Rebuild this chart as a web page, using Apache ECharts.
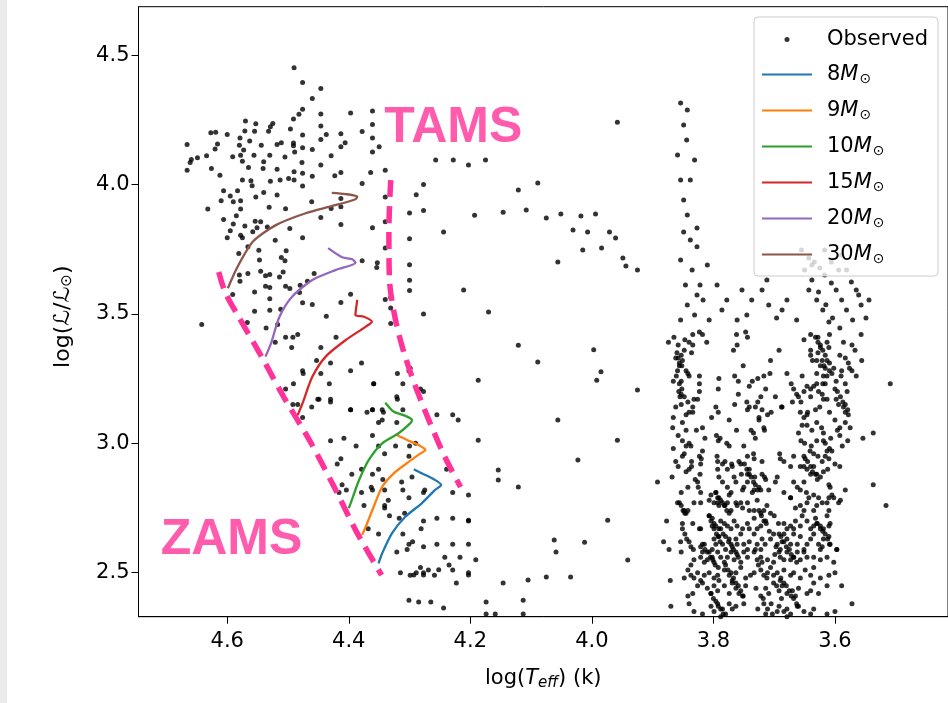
<!DOCTYPE html>
<html><head><meta charset="utf-8">
<script src="https://cdn.jsdelivr.net/npm/echarts@6/dist/echarts.min.js"></script>
<style>html,body{margin:0;padding:0;background:#fff;}#c{width:948px;height:703px;}</style>
</head><body><div id="c"></div>
<script>
// axis ticks
const xTicks = [4.6, 4.4, 4.2, 4.0, 3.8, 3.6];
const yTicks = [2.5, 3.0, 3.5, 4.0, 4.5];
// evolutionary tracks (logTeff, logL)
const t8T  = [4.351,4.345,4.329,4.307,4.280,4.258,4.248,4.263,4.280,4.293];
const t8L  = [2.536,2.575,2.652,2.716,2.768,2.820,2.839,2.865,2.884,2.900];
const t9T  = [4.378,4.372,4.359,4.345,4.326,4.301,4.282,4.274,4.285,4.304,4.321];
const t9L  = [2.646,2.678,2.755,2.832,2.884,2.929,2.961,2.974,2.993,3.013,3.032];
const t10T = [4.400,4.397,4.383,4.367,4.345,4.318,4.299,4.296,4.310,4.326,4.340];
const t10L = [2.749,2.768,2.858,2.936,3.000,3.039,3.077,3.090,3.109,3.122,3.157];
const t15T = [4.484,4.476,4.460,4.438,4.405,4.372,4.362,4.375,4.389,4.386];
const t15L = [3.109,3.155,3.257,3.335,3.399,3.451,3.470,3.489,3.496,3.554];
const t20T = [4.537,4.528,4.514,4.493,4.460,4.421,4.389,4.394,4.411,4.434];
const t20L = [3.335,3.386,3.489,3.567,3.631,3.670,3.698,3.711,3.719,3.754];
const t30T = [4.599,4.583,4.558,4.520,4.471,4.427,4.389,4.386,4.405,4.428];
const t30L = [3.599,3.682,3.779,3.843,3.889,3.917,3.943,3.953,3.963,3.968];
// ZAMS / TAMS guide lines
const zamsT = [4.614,4.603,4.580,4.544,4.506,4.465,4.424,4.387,4.346];
const zamsL = [3.662,3.581,3.484,3.337,3.175,3.013,2.831,2.657,2.491];
const tamsT = [4.331,4.334,4.333,4.323,4.308,4.288,4.265,4.241,4.216];
const tamsL = [4.017,3.824,3.631,3.476,3.341,3.206,3.071,2.943,2.831];
// observed stars: hot upper-left group
const obsHot = [[4.490,4.451],[4.476,4.394],[4.446,4.371],[4.460,4.332],[4.476,4.291],[4.482,4.271],[4.491,4.253],[4.446,4.272],[4.397,4.276],[4.361,4.284],
[4.570,4.245],[4.553,4.235],[4.525,4.236],[4.529,4.223],[4.532,4.206],[4.496,4.214],[4.627,4.200],[4.619,4.202],[4.600,4.193],[4.579,4.180],
[4.571,4.207],[4.555,4.206],[4.563,4.168],[4.544,4.152],[4.518,4.155],[4.511,4.161],[4.491,4.160],[4.491,4.150],[4.476,4.191],[4.446,4.226],
[4.437,4.193],[4.446,4.174],[4.413,4.196],[4.406,4.161],[4.413,4.146],[4.378,4.205],[4.361,4.232],[4.361,4.180],[4.350,4.146],[4.361,4.126],
[4.666,4.155],[4.616,4.156],[4.620,4.137],[4.580,4.152],[4.573,4.133],[4.578,4.113],[4.591,4.107],[4.556,4.113],[4.530,4.113],[4.505,4.106],
[4.489,4.126],[4.476,4.142],[4.460,4.135],[4.429,4.111],[4.659,4.097],[4.661,4.085],[4.649,4.103],[4.634,4.111],[4.666,4.055],[4.626,4.062],
[4.612,4.036],[4.575,4.090],[4.565,4.066],[4.540,4.088],[4.541,4.062],[4.518,4.059],[4.490,4.049],[4.477,4.085],[4.476,4.043],[4.460,4.032],
[4.446,4.075],[4.423,4.034],[4.413,4.046],[4.378,4.004],[4.364,4.046],[4.340,4.055],[4.575,4.017],[4.561,4.014],[4.559,3.995],[4.529,4.013],
[4.513,4.017],[4.499,4.023],[4.490,4.017],[4.476,3.994],[4.606,3.976],[4.595,3.956],[4.583,3.976],[4.610,3.937],[4.590,3.933],[4.578,3.937],
[4.553,3.952],[4.540,3.969],[4.518,3.959],[4.461,3.933],[4.429,3.907],[4.413,3.914],[4.413,3.946],[4.340,3.952],[4.632,3.905],[4.578,3.905],
[4.531,3.912],[4.504,3.906],[4.606,3.865],[4.585,3.879],[4.590,3.847],[4.571,3.840],[4.554,3.858],[4.545,3.856],[4.551,3.833],[4.558,3.817],
[4.534,3.836],[4.497,3.830],[4.446,3.872],[4.413,3.845],[4.361,3.833],[4.340,3.856],[4.600,3.794],[4.595,3.821],[4.578,3.804],[4.575,3.794],
[4.566,3.759],[4.521,3.785],[4.476,3.794],[4.581,3.733],[4.548,3.746],[4.547,3.708],[4.511,3.718],[4.503,3.744],[4.505,3.705],[4.378,3.705],
[4.353,3.698],[4.354,3.679],[4.340,3.755],[4.580,3.650],[4.579,3.626],[4.566,3.656],[4.545,3.665],[4.537,3.647],[4.530,3.652],[4.514,3.643],
[4.508,3.662],[4.457,3.656],[4.468,3.626],[4.480,3.611],[4.537,3.607],[4.530,3.602],[4.504,3.607],[4.497,3.598],[4.555,3.585],[4.591,3.575],
[4.530,3.559],[4.512,3.518],[4.530,3.514],[4.555,3.510],[4.481,3.583],[4.476,3.543],[4.460,3.536],[4.413,3.544],[4.397,3.576],[4.340,3.556],
[4.331,3.563],[4.331,3.523],[4.567,3.467],[4.642,3.459],[4.536,3.446],[4.517,3.459],[4.437,3.491],[4.331,3.463]];
// observed stars: main-sequence band between ZAMS and TAMS
const obsMid = [[4.521,3.39],[4.504,3.41],[4.492,3.41],[4.484,3.42],[4.494,3.37],[4.446,3.37],[4.421,3.41],[4.379,3.31],[4.453,3.32],[4.430,3.31],
[4.476,3.28],[4.475,3.27],[4.446,3.27],[4.397,3.28],[4.432,3.23],[4.359,3.23],[4.491,3.23],[4.504,3.21],[4.449,3.17],[4.451,3.17],
[4.430,3.17],[4.492,3.15],[4.484,3.15],[4.461,3.14],[4.397,3.13],[4.361,3.13],[4.345,3.13],[4.476,3.10],[4.320,3.17],[4.301,3.28],
[4.299,3.29],[4.320,3.27],[4.282,3.21],[4.289,3.96],[4.277,4.00],[4.300,3.89],[4.277,3.90],[4.300,3.79],[4.300,3.69],[4.300,3.63],
[4.300,3.59],[4.277,3.50],
[4.359,3.23],[4.311,3.23],[4.321,3.18],[4.430,3.16],[4.397,3.13],[4.370,3.12],[4.361,3.13],[4.343,3.12],[4.351,3.08],[4.345,3.09],
[4.321,3.08],[4.311,3.13],[4.277,3.20],[4.255,3.11],[4.229,3.11],[4.361,3.03],[4.430,3.01],[4.408,3.02],[4.388,2.99],[4.351,2.99],
[4.323,2.99],[4.300,2.99],[4.290,3.00],[4.301,2.95],[4.341,2.96],[4.413,2.94],[4.419,2.92],[4.379,2.90],[4.361,2.88],[4.351,2.90],
[4.395,2.88],[4.411,2.84],[4.416,2.81],[4.404,2.82],[4.379,2.81],[4.363,2.83],[4.361,2.82],[4.344,2.86],[4.341,2.82],[4.313,2.85],
[4.311,2.82],[4.296,2.87],[4.277,2.81],[4.275,2.82],[4.239,2.90],[4.229,2.81],[4.203,2.80],[4.301,2.79],[4.335,2.78],[4.341,2.76],
[4.341,2.75],[4.375,2.76],[4.368,2.67],[4.351,2.65],[4.333,2.72],[4.317,2.71],[4.308,2.73],[4.311,2.65],[4.301,2.61],[4.304,2.59],
[4.295,2.62],[4.321,2.58],[4.277,2.70],[4.255,2.71],[4.229,2.71],[4.203,2.70],[4.277,2.60],[4.255,2.61],[4.229,2.61],[4.203,2.61],
[4.281,2.67],[4.242,2.56],[4.235,2.53],[4.217,2.56],[4.191,2.55],[4.282,2.52],[4.269,2.51],[4.277,2.50],[4.289,2.50],[4.299,2.49],
[4.315,2.50],[4.259,2.49],[4.229,2.51],[4.203,2.50]];
// observed stars: Hertzsprung gap (sparse)
const obsGap = [[4.257,4.095],[4.228,4.095],[4.203,4.075],[4.175,4.095],[4.146,3.893],[4.121,3.979],[4.108,3.901],[4.089,4.006],[4.075,3.871],[4.051,3.886],
[4.031,3.824],[4.018,3.878],[4.007,3.816],[3.994,3.886],[3.984,3.755],[3.971,3.816],[3.961,3.793],[3.949,3.716],[3.944,3.685],[3.925,3.670],
[3.958,4.241],[3.997,3.361],[3.985,3.276],[3.992,3.244],[4.015,3.747],[4.056,3.701],[4.193,3.881],[4.244,3.816],[4.211,3.592],[4.170,3.507],
[4.121,3.379],[4.089,3.314],[4.187,3.244],[4.220,3.090],[4.056,3.090],[3.958,3.012],[3.925,3.206],[4.023,2.935],[4.154,2.897],[4.187,3.012],
[4.203,2.703],[4.154,2.858],[4.121,2.831],[4.062,2.626],[4.059,2.580],[4.012,2.618],[4.035,2.483],[4.075,2.483],[4.105,2.472],[4.146,2.460],
[4.203,2.491],[4.223,2.460],[4.252,2.511],[4.277,2.491],[4.293,2.491],[4.301,2.394],[4.285,2.387],[4.265,2.387],[4.244,2.364],[4.174,2.387],
[4.174,2.340],[4.159,2.340],[4.113,2.394],[4.113,2.340],[3.974,2.703],[3.941,2.549]];
// observed stars: cool giant branch, upper part
const obsCoolTop = [[3.854,4.315],[3.843,4.288],[3.849,4.230],[3.844,4.172],[3.859,4.114],[3.854,4.017],[3.849,3.940],[3.843,3.882],[3.849,3.816],[3.838,3.786],
[3.827,3.759],[3.854,3.708],[3.835,3.670],[3.846,3.612],[3.827,3.573],[3.843,3.534],[3.854,3.476],[3.810,3.689],[3.794,3.612],[3.778,3.554],
[3.761,3.476],[3.737,3.554],[3.720,3.592],[3.709,3.534],[3.696,3.484],[3.679,3.554],[3.655,3.747],[3.643,3.716],[3.634,3.701],[3.625,3.677],
[3.617,3.650],[3.606,3.619],[3.598,3.592],[3.589,3.554],[3.581,3.515],[3.571,3.476],[3.643,3.592],[3.630,3.554],[3.620,3.515],[3.610,3.469],
[3.565,3.592],[3.557,3.534],[3.549,3.484],[3.544,3.554],[3.638,3.689],[3.606,3.701],[3.594,3.670],[3.617,3.747],[3.589,3.728],
[3.650,3.670],[3.638,3.631],[3.627,3.585],[3.615,3.535],[3.604,3.484],[3.592,3.446],[3.581,3.670],[3.573,3.623],[3.561,3.573],
[3.838,4.017],[3.831,4.095],[3.827,3.832],[3.822,3.612],[3.831,3.496],[3.817,3.554],[3.807,3.476],[3.786,3.515],[3.753,3.592],
[3.745,3.496],[3.712,3.631],[3.687,3.515],[3.663,3.476]];
// observed stars: cool giant branch, lower part
const obsCool = [[3.823,3.43],[3.834,3.42],[3.818,3.42],[3.762,3.42],[3.747,3.43],[3.744,3.41],[3.874,3.39],[3.847,3.40],[3.840,3.39],[3.834,3.38],
[3.836,3.35],[3.811,3.39],[3.761,3.38],[3.767,3.36],[3.651,3.40],[3.628,3.41],[3.609,3.42],[3.640,3.36],[3.624,3.38],[3.613,3.39],
[3.610,3.37],[3.586,3.39],[3.572,3.38],[3.567,3.36],[3.557,3.42],[3.692,3.36],[3.751,3.30],[3.706,3.32],
[3.853,3.34],[3.851,3.32],[3.856,3.31],[3.852,3.30],[3.640,3.34],[3.637,3.32],[3.630,3.32],[3.621,3.32],[3.613,3.32],[3.609,3.31],
[3.592,3.34],[3.583,3.33],[3.578,3.31],[3.556,3.32],[3.624,3.30],[3.616,3.29],[3.609,3.28],[3.602,3.29],[3.576,3.29],
[3.861,3.26],[3.853,3.24],[3.842,3.27],[3.840,3.26],[3.823,3.26],[3.791,3.25],[3.765,3.26],[3.759,3.24],[3.736,3.24],[3.727,3.25],
[3.717,3.26],[3.707,3.27],[3.679,3.27],[3.654,3.26],[3.630,3.27],[3.619,3.26],[3.613,3.26],[3.589,3.28],[3.572,3.28],[3.565,3.26],[3.590,3.26],
[3.852,3.21],[3.853,3.19],[3.823,3.23],[3.823,3.20],[3.792,3.21],[3.759,3.19],[3.741,3.22],[3.714,3.21],[3.698,3.18],[3.646,3.22],
[3.640,3.21],[3.635,3.22],[3.630,3.23],[3.620,3.23],[3.616,3.23],[3.651,3.20],[3.627,3.20],[3.621,3.19],[3.583,3.23],[3.580,3.20],[3.509,3.23],
[3.853,3.15],[3.842,3.16],[3.832,3.17],[3.826,3.17],[3.834,3.14],[3.845,3.11],[3.834,3.12],[3.796,3.14],[3.803,3.10],[3.792,3.12],
[3.765,3.15],[3.745,3.16],[3.741,3.14],[3.744,3.13],[3.731,3.14],[3.727,3.16],[3.722,3.18],[3.720,3.13],[3.711,3.11],[3.705,3.12],
[3.688,3.14],[3.687,3.14],[3.670,3.16],[3.657,3.12],[3.646,3.11],[3.632,3.13],[3.619,3.17],[3.613,3.17],[3.609,3.12],[3.598,3.17],
[3.594,3.15],[3.586,3.14],[3.583,3.12],[3.578,3.11],[3.725,3.10],[3.725,3.09],
[3.774,3.09],[3.818,3.06],[3.828,3.05],[3.867,3.06],[3.762,3.05],[3.738,3.05],[3.734,3.04],[3.731,3.02],[3.717,3.06],[3.716,3.05],
[3.651,3.10],[3.654,3.07],[3.646,3.07],[3.638,3.05],[3.619,3.04],[3.630,3.08],[3.592,3.06],[3.575,3.06],[3.537,3.04],[3.554,3.02],
[3.592,3.03],[3.579,3.01],
[3.851,3.01],[3.845,2.99],[3.837,2.99],[3.814,3.02],[3.795,3.03],[3.792,3.01],[3.789,3.02],[3.778,3.00],[3.774,2.99],[3.750,2.99],
[3.660,3.04],[3.656,3.01],[3.650,3.00],[3.639,2.99],[3.630,3.01],[3.619,3.01],[3.616,3.00],[3.609,2.98],[3.605,2.97],
[3.851,2.95],[3.823,2.95],[3.818,2.97],[3.820,2.94],[3.794,2.95],[3.793,2.93],[3.785,2.92],[3.781,2.93],[3.770,2.92],[3.758,2.93],
[3.744,2.95],[3.734,2.96],[3.733,2.94],[3.720,2.93],[3.691,2.96],[3.690,2.94],[3.684,2.93],[3.668,2.95],[3.651,2.95],[3.635,2.96],
[3.613,2.97],[3.616,2.95],[3.610,2.94],[3.621,2.93],
[3.858,2.91],[3.840,2.90],[3.836,2.91],[3.821,2.92],[3.822,2.88],[3.793,2.90],[3.791,2.87],[3.777,2.90],[3.769,2.91],[3.766,2.87],
[3.755,2.92],[3.754,2.88],[3.744,2.88],[3.741,2.90],[3.732,2.87],[3.720,2.88],[3.716,2.87],[3.714,2.86],[3.695,2.87],[3.698,2.85],
[3.673,2.91],[3.657,2.91],[3.651,2.91],[3.646,2.90],[3.640,2.88],[3.635,2.91],[3.630,2.88],[3.624,2.87],[3.619,2.89],[3.592,2.91],
[3.892,2.85],[3.537,2.84],
[3.842,2.83],[3.853,2.81],[3.826,2.85],[3.825,2.83],[3.821,2.81],[3.804,2.80],[3.796,2.81],[3.785,2.85],[3.777,2.83],[3.774,2.80],
[3.771,2.81],[3.763,2.85],[3.752,2.82],[3.750,2.83],[3.744,2.85],[3.736,2.81],[3.733,2.82],[3.725,2.83],[3.722,2.82],[3.709,2.82],
[3.684,2.81],[3.673,2.79],[3.668,2.85],[3.662,2.83],[3.657,2.82],[3.651,2.85],[3.647,2.81],[3.643,2.79],[3.635,2.80],[3.627,2.79],
[3.610,2.84],[3.608,2.83],[3.605,2.80],[3.583,2.82],
[3.859,2.77],[3.848,2.74],[3.845,2.73],[3.842,2.74],[3.832,2.77],[3.821,2.77],[3.807,2.78],[3.799,2.77],[3.793,2.77],[3.791,2.76],
[3.782,2.76],[3.777,2.77],[3.771,2.74],[3.763,2.77],[3.761,2.76],[3.755,2.77],[3.752,2.75],[3.744,2.77],[3.741,2.74],[3.733,2.74],
[3.722,2.73],[3.717,2.74],[3.706,2.73],[3.673,2.79],[3.665,2.75],[3.657,2.76],[3.651,2.74],[3.646,2.77],[3.635,2.74],[3.630,2.76],
[3.621,2.77],[3.613,2.77],[3.610,2.79],[3.602,2.79],[3.594,2.77],[3.591,2.78],[3.610,2.74],[3.613,2.72],[3.516,2.76],
[3.877,2.70],[3.851,2.69],[3.834,2.69],[3.823,2.67],[3.821,2.67],[3.807,2.72],[3.802,2.71],[3.799,2.69],[3.796,2.68],[3.791,2.67],
[3.788,2.70],[3.782,2.69],[3.777,2.68],[3.771,2.67],[3.766,2.70],[3.761,2.68],[3.752,2.67],[3.744,2.69],[3.741,2.67],[3.733,2.71],
[3.728,2.67],[3.722,2.68],[3.714,2.70],[3.701,2.65],[3.684,2.69],[3.679,2.67],[3.673,2.68],[3.668,2.67],[3.665,2.70],[3.657,2.68],
[3.654,2.72],[3.646,2.70],[3.640,2.67],[3.635,2.68],[3.630,2.69],[3.624,2.67],[3.619,2.67],[3.610,2.68],[3.608,2.69],
[3.882,2.62],[3.873,2.59],[3.854,2.62],[3.853,2.58],[3.821,2.60],[3.818,2.58],[3.815,2.61],[3.802,2.59],[3.799,2.63],[3.796,2.61],
[3.791,2.64],[3.785,2.61],[3.780,2.59],[3.774,2.63],[3.769,2.60],[3.763,2.63],[3.761,2.61],[3.755,2.65],[3.750,2.61],[3.744,2.59],
[3.741,2.62],[3.733,2.65],[3.731,2.59],[3.728,2.61],[3.722,2.59],[3.720,2.63],[3.695,2.61],[3.690,2.59],[3.687,2.62],[3.684,2.65],
[3.679,2.63],[3.673,2.61],[3.668,2.65],[3.662,2.61],[3.657,2.64],[3.651,2.59],[3.646,2.61],[3.640,2.63],[3.635,2.65],[3.627,2.61],
[3.624,2.59],[3.619,2.63],[3.610,2.64],[3.609,2.61],[3.597,2.59],[3.621,2.60],
[3.837,2.53],[3.832,2.55],[3.821,2.56],[3.815,2.54],[3.810,2.55],[3.807,2.58],[3.802,2.56],[3.799,2.54],[3.793,2.58],[3.788,2.56],
[3.782,2.54],[3.777,2.56],[3.771,2.58],[3.766,2.55],[3.761,2.57],[3.750,2.58],[3.744,2.56],[3.733,2.58],[3.728,2.55],[3.722,2.56],
[3.720,2.54],[3.711,2.55],[3.701,2.54],[3.692,2.58],[3.690,2.56],[3.684,2.55],[3.679,2.58],[3.673,2.55],[3.668,2.56],[3.662,2.58],
[3.657,2.55],[3.651,2.58],[3.646,2.56],[3.635,2.56],[3.624,2.55],[3.613,2.56],[3.602,2.54],[3.597,2.59],
[3.871,2.47],[3.848,2.48],[3.842,2.51],[3.837,2.49],[3.832,2.48],[3.826,2.50],[3.821,2.47],[3.815,2.49],[3.807,2.50],[3.799,2.48],
[3.793,2.49],[3.791,2.47],[3.782,2.51],[3.774,2.49],[3.769,2.47],[3.763,2.50],[3.755,2.52],[3.747,2.48],[3.739,2.49],[3.733,2.50],
[3.722,2.51],[3.717,2.49],[3.711,2.50],[3.706,2.52],[3.701,2.49],[3.695,2.50],[3.690,2.47],[3.684,2.51],[3.673,2.49],[3.668,2.50],
[3.657,2.48],[3.649,2.51],[3.640,2.49],[3.635,2.52],[3.624,2.48],[3.610,2.49],[3.600,2.50],
[3.842,2.41],[3.834,2.42],[3.826,2.45],[3.818,2.46],[3.810,2.44],[3.804,2.42],[3.799,2.45],[3.793,2.43],[3.782,2.45],[3.774,2.42],
[3.769,2.46],[3.763,2.44],[3.758,2.42],[3.752,2.41],[3.747,2.45],[3.722,2.41],[3.714,2.44],[3.709,2.42],[3.701,2.46],[3.692,2.43],
[3.687,2.45],[3.679,2.42],[3.670,2.43],[3.665,2.41],[3.660,2.44],[3.646,2.42],[3.640,2.43],[3.635,2.46],[3.627,2.42],[3.613,2.45],[3.589,2.45],
[3.870,2.37],[3.840,2.38],[3.832,2.35],[3.818,2.34],[3.804,2.37],[3.799,2.35],[3.793,2.38],[3.785,2.36],[3.780,2.34],[3.774,2.38],
[3.769,2.36],[3.763,2.37],[3.750,2.38],[3.717,2.38],[3.711,2.36],[3.703,2.34],[3.692,2.37],[3.684,2.35],[3.679,2.36],[3.673,2.34],
[3.662,2.37],[3.651,2.35],[3.640,2.34],[3.635,2.36],[3.613,2.34],[3.600,2.35],[3.572,2.38],[3.788,2.33],[3.714,2.34],[3.679,2.33]];
// observed stars: diagonal streaks inside the dense giant clump
const obsStreaks = [[3.796,2.81],[3.793,2.79],[3.791,2.79],[3.788,2.78],[3.785,2.77],[3.781,2.76],[3.778,2.74],[3.774,2.73],
[3.807,2.72],[3.804,2.70],[3.802,2.68],[3.799,2.67],[3.795,2.65],[3.792,2.64],[3.789,2.62],
[3.788,2.67],[3.784,2.65],[3.780,2.64],[3.775,2.62],[3.771,2.61],[3.767,2.59],[3.763,2.58],[3.759,2.56],[3.755,2.54],
[3.818,2.61],[3.814,2.59],[3.810,2.58],[3.805,2.56],[3.801,2.55],[3.797,2.53],[3.792,2.52],
[3.780,2.53],[3.776,2.51],[3.771,2.50],[3.767,2.48],[3.763,2.46],[3.759,2.45],[3.755,2.43],[3.751,2.41],
[3.804,2.42],[3.800,2.40],[3.796,2.39],[3.792,2.37],[3.788,2.36],[3.784,2.34],
[3.749,2.92],[3.745,2.90],[3.741,2.88],[3.738,2.87],[3.734,2.85],[3.731,2.84],[3.727,2.82],
[3.725,2.74],[3.721,2.72],[3.717,2.70],[3.713,2.69],
[3.692,2.65],[3.689,2.64],[3.684,2.62],[3.680,2.60],[3.675,2.59],[3.672,2.57],[3.668,2.56],[3.663,2.54],
[3.689,2.48],[3.684,2.46],[3.680,2.45],[3.675,2.43],[3.672,2.41],[3.668,2.40],[3.663,2.38],[3.660,2.37],
[3.649,2.94],[3.645,2.93],[3.640,2.91],[3.637,2.89],[3.632,2.88],[3.629,2.86],
[3.632,2.71],[3.629,2.69],[3.624,2.68],[3.620,2.66],[3.616,2.65],[3.612,2.63],[3.608,2.61],
[3.856,2.77],[3.853,2.76],[3.850,2.74],[3.847,2.73],
[3.851,2.67],[3.847,2.65],[3.844,2.63],[3.840,2.62],[3.837,2.60],[3.833,2.59],
[3.672,3.23],[3.668,3.21],[3.663,3.19],[3.660,3.18],[3.656,3.16],
[3.600,3.21],[3.596,3.20],[3.591,3.18],[3.587,3.16],[3.583,3.15],[3.579,3.13],
[3.860,3.35],[3.858,3.33],[3.856,3.30],[3.859,3.28],[3.856,3.23],[3.855,3.18],
[3.632,3.41],[3.628,3.39],[3.624,3.37],[3.620,3.36],[3.616,3.34]];
// observed stars: extra members of the giant columns
const obsColumns = [[3.865,3.41],[3.858,3.38],[3.848,3.36],[3.862,3.33],[3.845,3.28],[3.866,3.24],[3.857,3.20],[3.848,3.18],[3.862,3.14],[3.840,3.12],
[3.866,3.10],[3.851,3.08],[3.845,3.05],[3.858,3.03],[3.840,3.00],[3.866,2.98],[3.848,2.96],[3.836,2.93],[3.862,2.93],[3.845,2.89],[3.868,2.87],[3.830,2.86],
[3.640,3.42],[3.628,3.35],[3.618,3.30],[3.605,3.27],[3.598,3.24],[3.640,3.18],[3.625,3.14],[3.600,3.09],[3.596,3.05],[3.622,3.06],
[3.607,3.02],[3.641,2.97],[3.628,2.95],[3.600,2.92],[3.612,2.90],[3.588,2.99],[3.583,3.08],[3.645,3.12],
[3.728,2.78],[3.712,2.76],[3.700,2.72],[3.693,2.69],[3.706,2.63],[3.715,2.61],[3.699,2.57],[3.726,2.53],[3.712,2.48],[3.696,2.45],
[3.730,2.44],[3.718,2.40],[3.705,2.38],[3.727,2.36],[3.695,2.35],[3.688,2.40],[3.708,2.66],[3.697,2.60]];

const PINK = '#ff3399';
const zip = (a, b) => a.map((v, i) => [v, b[i]]);
const FONT = 'DejaVu Sans';
const tracks = [
  {name: '8', T: t8T, L: t8L, color: '#1f77b4'},
  {name: '9', T: t9T, L: t9L, color: '#ff7f0e'},
  {name: '10', T: t10T, L: t10L, color: '#2ca02c'},
  {name: '15', T: t15T, L: t15L, color: '#d62728'},
  {name: '20', T: t20T, L: t20L, color: '#9467bd'},
  {name: '30', T: t30T, L: t30L, color: '#8c564b'}
];

const chart = echarts.init(document.getElementById('c'), null, {renderer: 'canvas'});
const series = [
  {name: 'Observed', type: 'scatter', data: obsHot.concat(obsMid, obsGap, obsCoolTop, obsCool, obsStreaks, obsColumns), symbol: 'circle', symbolSize: 5,
   itemStyle: {color: '#000'}, z: 2, animation: false, silent: true, large: false},
  {name: 'ZAMSline', type: 'line', data: zip(zamsT, zamsL), showSymbol: false, symbol: 'none', smooth: 0.3,
   lineStyle: {color: PINK, width: 5.5, type: [17, 9]}, z: 3, animation: false, silent: true},
  {name: 'TAMSline', type: 'line', data: zip(tamsT, tamsL), showSymbol: false, symbol: 'none', smooth: 0.3,
   lineStyle: {color: PINK, width: 5.5, type: [17, 9]}, z: 3, animation: false, silent: true}
];
tracks.forEach(t => series.push({
  name: t.name, type: 'line', data: zip(t.T, t.L), showSymbol: false, symbol: 'none', smooth: 0.25,
  lineStyle: {color: t.color, width: 2.3}, itemStyle: {color: t.color}, z: 4, animation: false, silent: true
}));
series.push({
  name: 'labels', type: 'scatter', symbolSize: 1, itemStyle: {color: 'rgba(0,0,0,0)'}, z: 5, silent: true, animation: false,
  data: [[4.228, 4.218, 'TAMS'], [4.593, 2.626, 'ZAMS']],
  label: {show: true, position: 'inside', formatter: p => p.data[2], color: PINK,
    fontFamily: 'Liberation Sans', fontWeight: 'bold', fontSize: 50}
});

const legendData = [{name: 'Observed', icon: 'circle'}].concat(
  tracks.map(t => ({name: t.name, itemStyle: {opacity: 0, color: 'rgba(0,0,0,0)', borderWidth: 0}})));

chart.setOption({
  backgroundColor: '#fff',
  animation: false,
  graphic: [{type: 'rect', left: 0, top: 0, shape: {width: 7, height: 703}, style: {fill: '#ebebeb'}, silent: true}],
  grid: {left: 138.5, top: 6.7, width: 813.5, height: 610, show: true, borderColor: '#000', borderWidth: 1, backgroundColor: 'transparent', containLabel: false},
  xAxis: {
    type: 'value', inverse: true, min: 3.414, max: 4.746,
    name: '{n|log(}{i|T}{s|eff}{n|) (k)}', nameLocation: 'middle', nameGap: 50,
    nameTextStyle: {rich: {
      n: {fontFamily: FONT, fontSize: 21, color: '#000'},
      i: {fontFamily: FONT, fontSize: 21, fontStyle: 'italic', color: '#000'},
      s: {fontFamily: FONT, fontSize: 15, fontStyle: 'italic', color: '#000', padding: [9, 0, 0, 0]}
    }},
    axisLine: {show: true, lineStyle: {color: '#000', width: 1}},
    axisTick: {show: true, length: 7, inside: false, customValues: xTicks, lineStyle: {color: '#000', width: 1}},
    axisLabel: {show: true, customValues: xTicks, formatter: v => v.toFixed(1), fontFamily: FONT, fontSize: 21, color: '#000', margin: 14},
    splitLine: {show: false}
  },
  yAxis: {
    type: 'value', min: 2.33, max: 4.687,
    name: '{n|log(ℒ/ℒ}{s|⊙}{n|)}', nameLocation: 'middle', nameGap: 64, nameRotate: 90,
    nameTextStyle: {padding: [0, 10, 0, 0], rich: {
      n: {fontFamily: FONT, fontSize: 22, color: '#000'},
      s: {fontFamily: FONT, fontSize: 15, color: '#000', padding: [8, 0, 0, 0]}
    }},
    axisLine: {show: true, lineStyle: {color: '#000', width: 1}},
    axisTick: {show: true, length: 7, inside: false, customValues: yTicks, lineStyle: {color: '#000', width: 1}},
    axisLabel: {show: true, customValues: yTicks, formatter: v => v.toFixed(1), fontFamily: FONT, fontSize: 21, color: '#000', margin: 9},
    splitLine: {show: false}
  },
  legend: {
    orient: 'vertical', left: 754, top: 17,
    itemWidth: 50, itemHeight: 5, itemGap: 14,
    padding: [12, 10, 10, 7],
    backgroundColor: 'rgba(255,255,255,0.8)', borderColor: '#cccccc', borderWidth: 1, borderRadius: 4,
    selectedMode: false,
    data: legendData,
    formatter: name => name === 'Observed' ? '{o|Observed}' : '{n|' + name + '}{i|M}{s|⊙}',
    textStyle: {fontFamily: FONT, fontSize: 21, color: '#000', padding: [0, 0, 0, 10], rich: {
      o: {fontFamily: FONT, fontSize: 21, color: '#000', lineHeight: 24},
      n: {fontFamily: FONT, fontSize: 21, color: '#000', lineHeight: 24},
      i: {fontFamily: FONT, fontSize: 21, fontStyle: 'italic', color: '#000', lineHeight: 24},
      s: {fontFamily: FONT, fontSize: 14, color: '#000', padding: [9, 0, 0, 1]}
    }}
  },
  series: series
});
</script></body></html>
